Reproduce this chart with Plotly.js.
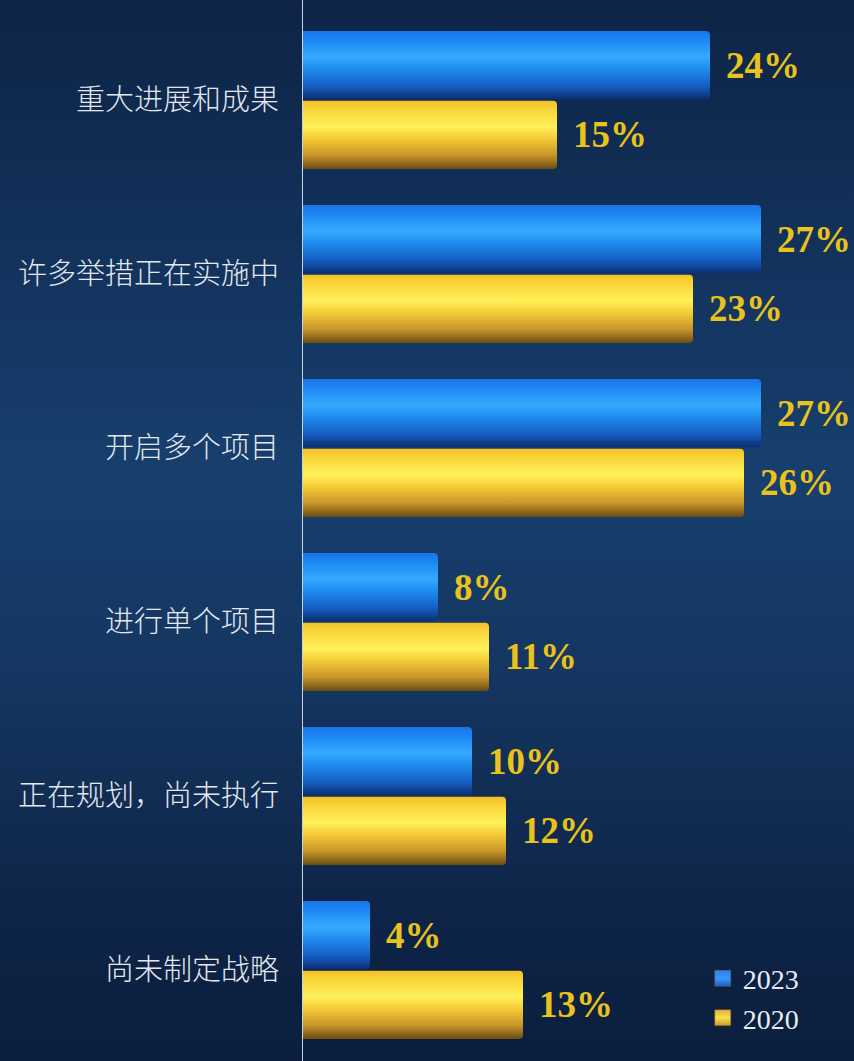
<!DOCTYPE html>
<html>
<head>
<meta charset="utf-8">
<script src="https://cdn.plot.ly/plotly-3.0.1.min.js"></script>
<style>
  html, body { margin: 0; padding: 0; }
  body {
    width: 854px; height: 1061px; overflow: hidden;
    background: linear-gradient(to bottom, #0d2446 0%, #13335d 25%, #173f6e 45%, #14355f 65%, #0e2548 85%, #0b1e3d 100%);
  }
  #chart { width: 854px; height: 1061px; }
</style>
</head>
<body>
<div id="chart"></div>
<script>
const categories = ["重大进展和成果", "许多举措正在实施中", "开启多个项目", "进行单个项目", "正在规划，尚未执行", "尚未制定战略"];
const values2023 = [24, 27, 27, 8, 10, 4];
const values2020 = [15, 23, 26, 11, 12, 13];
const seriesNames = ["2023", "2020"];

const traces = [
  {
    type: "bar", orientation: "h", name: seriesNames[0],
    y: categories, x: values2023,
    marker: { color: "#1f86f2", line: { width: 0 } },
    hoverinfo: "skip"
  },
  {
    type: "bar", orientation: "h", name: seriesNames[1],
    y: categories, x: values2020,
    marker: { color: "#f5cf35", line: { width: 0 } },
    hoverinfo: "skip"
  }
];

const labelFont = { family: "Liberation Serif, Times New Roman, serif", size: 37, color: "#e9c21c", weight: "bold" };
const annotations = [];
categories.forEach((c, i) => {
  annotations.push({ x: values2023[i], y: i - 0.2, xref: "x", yref: "y", text: values2023[i] + "%",
    showarrow: false, xanchor: "left", yanchor: "middle", xshift: 14, font: labelFont });
  annotations.push({ x: values2020[i], y: i + 0.2, xref: "x", yref: "y", text: values2020[i] + "%",
    showarrow: false, xanchor: "left", yanchor: "middle", xshift: 14, font: labelFont });
});

const layout = {
  width: 854, height: 1061,
  margin: { l: 302, r: 0, t: 13, b: 4 },
  paper_bgcolor: "rgba(0,0,0,0)",
  plot_bgcolor: "rgba(0,0,0,0)",
  barmode: "group",
  bargap: 0.2,
  bargroupgap: 0.02,
  barcornerradius: 4,
  showlegend: true,
  legend: {
    x: 0.726, y: 0.099, xanchor: "left", yanchor: "top",
    bgcolor: "rgba(0,0,0,0)",
    font: { family: "Liberation Serif, Times New Roman, serif", size: 28, color: "#e8ecf2" },
    tracegroupgap: 0, itemwidth: 30
  },
  xaxis: {
    range: [0, 552 / 17], showgrid: false, zeroline: false, showticklabels: false, showline: false, fixedrange: true
  },
  yaxis: {
    type: "category", autorange: "reversed", showgrid: false, zeroline: false, showline: false,
    ticks: "", ticklabelstandoff: 22,
    tickfont: { family: "Noto Sans CJK SC, sans-serif", size: 29, color: "#e3e8ef", weight: 300 },
    fixedrange: true
  },
  annotations: annotations,
  shapes: [
    { type: "line", xref: "x", yref: "paper", x0: 0, x1: 0, y0: -0.01, y1: 1.02,
      line: { color: "#c9d2df", width: 2 } }
  ]
};

Plotly.newPlot("chart", traces, layout, { staticPlot: true, displayModeBar: false }).then(gd => {
  const svg = gd.querySelector("svg.main-svg");
  const NS = "http://www.w3.org/2000/svg";
  let defs = svg.querySelector("defs");
  if (!defs) { defs = document.createElementNS(NS, "defs"); svg.insertBefore(defs, svg.firstChild); }
  function grad(id, stops) {
    const g = document.createElementNS(NS, "linearGradient");
    g.setAttribute("id", id);
    g.setAttribute("x1", "0"); g.setAttribute("y1", "0"); g.setAttribute("x2", "0"); g.setAttribute("y2", "1");
    stops.forEach(s => {
      const st = document.createElementNS(NS, "stop");
      st.setAttribute("offset", s[0]); st.setAttribute("stop-color", s[1]);
      g.appendChild(st);
    });
    defs.appendChild(g);
  }
  grad("gBlue", [["0", "#1a74e6"], ["0.12", "#1c86f4"], ["0.38", "#35aaff"], ["0.55", "#1f8cf0"], ["0.8", "#165fc4"], ["1", "#0b2e72"]]);
  grad("gYellow", [["0", "#f2bf2a"], ["0.12", "#f8d338"], ["0.38", "#fff15a"], ["0.55", "#f6cd36"], ["0.8", "#c8952a"], ["1", "#6a4d12"]]);
  grad("gBlueL", [["0", "#2a80f0"], ["0.5", "#3a95ff"], ["1", "#1a5fc8"]]);
  grad("gYellowL", [["0", "#e8b030"], ["0.5", "#f8e050"], ["1", "#c89a28"]]);
  const barTraces = gd.querySelectorAll(".barlayer .trace.bars");
  const ids = ["gBlue", "gYellow"];
  barTraces.forEach((t, k) => {
    t.querySelectorAll("path").forEach(p => { p.style.fill = "url(#" + ids[k] + ")"; });
  });
  const legIds = ["gBlueL", "gYellowL"];
  gd.querySelectorAll(".legend .traces").forEach((t, k) => {
    t.querySelectorAll(".legendpoints path").forEach(p => {
      p.setAttribute("d", "M8,8H-8V-8H8Z");
      p.style.fill = "url(#" + legIds[k] + ")";
      p.style.stroke = "#7a5a20";
      p.style.strokeWidth = "0.5px";
    });
  });
});
</script>
</body>
</html>
